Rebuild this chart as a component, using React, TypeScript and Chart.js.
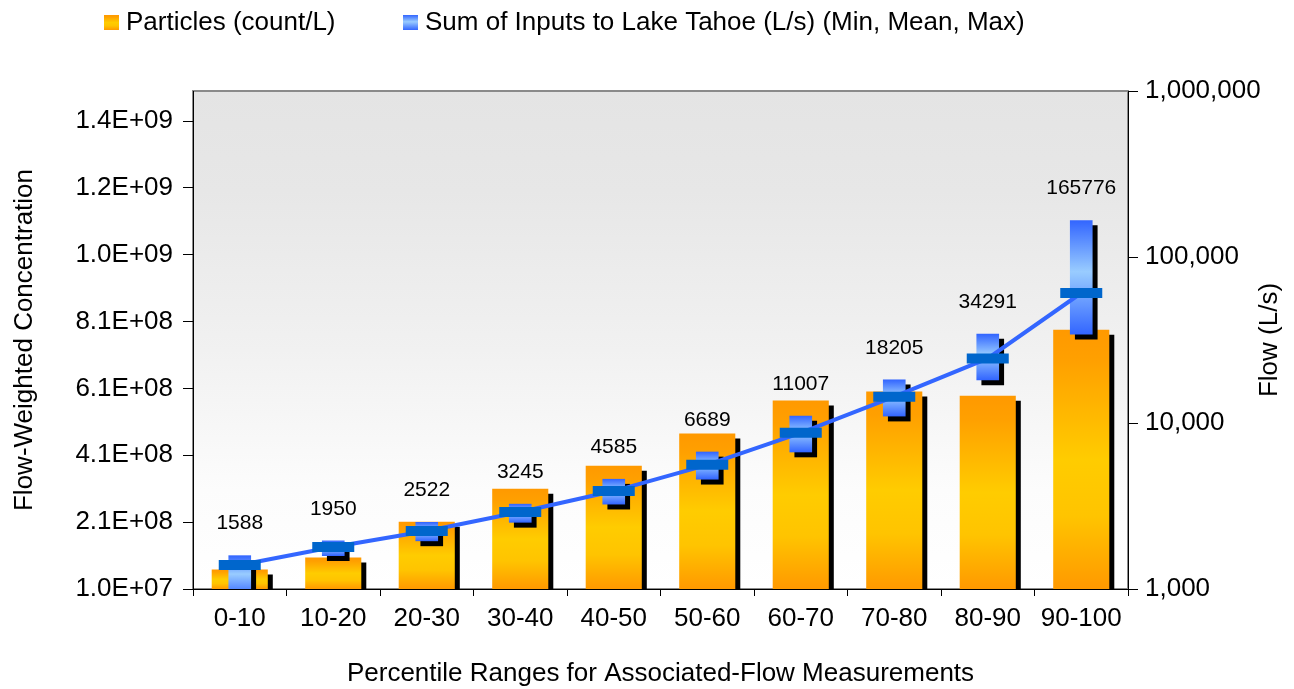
import React, { useEffect, useRef } from 'react';
import { Chart, registerables } from 'chart.js';

Chart.register(...registerables);

const categories = ['0-10', '10-20', '20-30', '30-40', '40-50', '50-60', '60-70', '70-80', '80-90', '90-100'];
const particles = [6.8e7, 1.04e8, 2.11e8, 3.1e8, 3.79e8, 4.75e8, 5.74e8, 6.01e8, 5.88e8, 7.86e8];
const flowMin = [900, 1588, 1950, 2522, 3245, 4585, 6689, 11007, 18205, 34291];
const flowMean = [1395, 1790, 2235, 2910, 3890, 5600, 8730, 14400, 24500, 60700];
const flowMax = [1588, 1950, 2522, 3245, 4585, 6689, 11007, 18205, 34291, 165776];
const leftTickValues = [1e7, 2.1e8, 4.1e8, 6.1e8, 8.1e8, 1.01e9, 1.21e9, 1.41e9];
const leftTickLabels = ['1.0E+07', '2.1E+08', '4.1E+08', '6.1E+08', '8.1E+08', '1.0E+09', '1.2E+09', '1.4E+09'];
const rightTickValues = [1000, 10000, 100000, 1000000];
const rightTickLabels = ['1,000', '10,000', '100,000', '1,000,000'];

const legendLabels = ['Particles (count/L)', 'Sum of Inputs to Lake Tahoe (L/s) (Min, Mean, Max)'];
const leftTitle = 'Flow-Weighted Concentration';
const rightTitle = 'Flow (L/s)';
const bottomTitle = 'Percentile Ranges for Associated-Flow Measurements';

const FONT = "'Liberation Sans', Arial, Helvetica, sans-serif";
const AXIS_SIZE = 26;
const LABEL_SIZE = 21;

function orangeGradient(ctx: CanvasRenderingContext2D, top: number, bottom: number) {
  const g = ctx.createLinearGradient(0, top, 0, bottom);
  g.addColorStop(0, '#ff9900');
  g.addColorStop(0.12, '#ffa000');
  g.addColorStop(0.5, '#ffcc00');
  g.addColorStop(0.72, '#ffc400');
  g.addColorStop(1, '#ff9900');
  return g;
}

function blueGradient(ctx: CanvasRenderingContext2D, top: number, bottom: number) {
  const g = ctx.createLinearGradient(0, top, 0, bottom);
  g.addColorStop(0, '#3366ff');
  g.addColorStop(0.45, '#99ccff');
  g.addColorStop(1, '#3366ff');
  return g;
}

const backgroundPlugin = {
  id: 'plotBackground',
  beforeDraw(chart: any) {
    const { ctx, chartArea } = chart;
    if (!chartArea) return;
    const { left, top, right, bottom } = chartArea;
    ctx.save();
    const g = ctx.createLinearGradient(0, top, 0, bottom);
    g.addColorStop(0, '#e4e4e4');
    g.addColorStop(0.2, '#e7e7e7');
    g.addColorStop(0.52, '#f1f1f1');
    g.addColorStop(0.8, '#fcfcfc');
    g.addColorStop(1, '#ffffff');
    ctx.fillStyle = g;
    ctx.fillRect(left, top, right - left, bottom - top);
    ctx.strokeStyle = '#8a8a8a';
    ctx.lineWidth = 2;
    ctx.strokeRect(left, top, right - left, bottom - top);
    ctx.restore();
  },
};

const shadowPlugin = {
  id: 'barShadow',
  beforeDatasetDraw(chart: any, args: any) {
    const ds = chart.data.datasets[args.index];
    if (ds.type === 'line') return;
    const ctx = chart.ctx;
    ctx.save();
    ctx.shadowColor = '#000000';
    ctx.shadowOffsetX = 5;
    ctx.shadowOffsetY = 5;
    ctx.shadowBlur = 0;
  },
  afterDatasetDraw(chart: any, args: any) {
    const ds = chart.data.datasets[args.index];
    if (ds.type === 'line') return;
    chart.ctx.restore();
  },
};

const overlayPlugin = {
  id: 'overlay',
  afterDraw(chart: any) {
    const { ctx, chartArea } = chart;
    const y1 = chart.scales.y1;
    ctx.save();
    // value labels above the flow ranges
    const meta = chart.getDatasetMeta(1);
    ctx.fillStyle = '#000';
    ctx.font = `${LABEL_SIZE}px ${FONT}`;
    ctx.textAlign = 'center';
    ctx.textBaseline = 'middle';
    meta.data.forEach((el: any, i: number) => {
      const yTop = y1.getPixelForValue(flowMax[i]);
      ctx.fillText(String(flowMax[i]), el.x, yTop - 32);
    });

    // right axis title (reads bottom to top)
    ctx.save();
    ctx.font = `${AXIS_SIZE}px ${FONT}`;
    ctx.translate(1270, (chartArea.top + chartArea.bottom) / 2);
    ctx.rotate(-Math.PI / 2);
    ctx.fillText(rightTitle, 0, 0);
    ctx.restore();

    // legend
    ctx.font = `${AXIS_SIZE}px ${FONT}`;
    ctx.textAlign = 'left';
    ctx.textBaseline = 'middle';
    const items = [
      { x: 104, label: legendLabels[0], grad: orangeGradient(ctx, 15, 30) },
      { x: 403, label: legendLabels[1], grad: blueGradient(ctx, 15, 30) },
    ];
    items.forEach((it) => {
      ctx.fillStyle = it.grad;
      ctx.fillRect(it.x, 15, 15, 15);
      ctx.fillStyle = '#000';
      ctx.fillText(it.label, it.x + 22, 23);
    });
    ctx.restore();
  },
};

export default function App() {
  const canvasRef = useRef<HTMLCanvasElement | null>(null);

  useEffect(() => {
    document.body.style.margin = '0';
    const canvas = canvasRef.current;
    if (!canvas) return;

    const tickFont = { family: FONT, size: AXIS_SIZE };

    const chart = new Chart(canvas, {
      type: 'bar',
      data: {
        labels: categories,
        datasets: [
          {
            type: 'line',
            label: 'Mean flow',
            data: flowMean,
            yAxisID: 'y1',
            borderColor: '#3366ff',
            borderWidth: 4,
            tension: 0,
            pointStyle: 'line',
            pointRadius: 21,
            pointHoverRadius: 21,
            pointBorderWidth: 10,
            pointBorderColor: '#0066cc',
            pointBackgroundColor: '#0066cc',
            order: 0,
          } as any,
          {
            type: 'bar',
            label: legendLabels[1],
            data: flowMin.map((m, i) => [m, flowMax[i]]),
            yAxisID: 'y1',
            grouped: false,
            barThickness: 22,
            borderWidth: 0,
            clip: 0,
            order: 1,
            backgroundColor: (c: any) => {
              const chart = c.chart;
              if (!chart.chartArea || c.type !== 'data') return '#3366ff';
              const s = chart.scales.y1;
              const top = s.getPixelForValue(flowMax[c.dataIndex]);
              const bottom = s.getPixelForValue(flowMin[c.dataIndex]);
              if (!isFinite(top) || !isFinite(bottom) || top === bottom) return '#3366ff';
              return blueGradient(chart.ctx, top, bottom);
            },
          } as any,
          {
            type: 'bar',
            label: legendLabels[0],
            data: particles,
            yAxisID: 'y',
            grouped: false,
            barPercentage: 0.6,
            categoryPercentage: 1,
            borderWidth: 0,
            clip: 0,
            order: 2,
            backgroundColor: (c: any) => {
              const chart = c.chart;
              if (!chart.chartArea || c.type !== 'data') return '#ff9900';
              const s = chart.scales.y;
              const top = s.getPixelForValue(particles[c.dataIndex]);
              const bottom = chart.chartArea.bottom;
              if (!isFinite(top) || top >= bottom) return '#ff9900';
              return orangeGradient(chart.ctx, top, bottom);
            },
          } as any,
        ],
      },
      options: {
        responsive: false,
        animation: false,
        devicePixelRatio: 1,
        layout: { padding: { top: 91, left: 0, right: 0, bottom: 0 } },
        plugins: {
          legend: { display: false },
          tooltip: { enabled: false },
        },
        scales: {
          x: {
            type: 'category',
            offset: true,
            z: 1,
            grid: { offset: true, drawOnChartArea: false, tickLength: 7, color: '#000', lineWidth: 1 },
            border: { color: '#000', width: 1 },
            ticks: { color: '#000', font: tickFont, padding: 7, maxRotation: 0, autoSkip: false },
            title: {
              display: true,
              text: bottomTitle,
              color: '#000',
              font: tickFont,
              padding: { top: 0, bottom: 0 },
            },
            afterFit: (s: any) => {
              s.height = 100;
            },
          },
          y: {
            type: 'linear',
            position: 'left',
            min: 1e7,
            max: 1.5e9,
            afterBuildTicks: (s: any) => {
              s.ticks = leftTickValues.map((v) => ({ value: v }));
            },
            grid: { drawOnChartArea: false, tickLength: 10, color: '#000', lineWidth: 1 },
            border: { color: '#000', width: 1 },
            ticks: {
              color: '#000',
              font: tickFont,
              padding: 10,
              autoSkip: false,
              callback: (v: any) => {
                const i = leftTickValues.indexOf(Number(v));
                return i >= 0 ? leftTickLabels[i] : '';
              },
            },
            title: {
              display: true,
              text: leftTitle,
              color: '#000',
              font: tickFont,
              padding: { top: 9, bottom: 0 },
            },
            afterFit: (s: any) => {
              s.width = 193;
            },
          },
          y1: {
            type: 'logarithmic',
            position: 'right',
            min: 1000,
            max: 1000000,
            afterBuildTicks: (s: any) => {
              s.ticks = rightTickValues.map((v) => ({ value: v }));
            },
            grid: { drawOnChartArea: false, tickLength: 10, color: '#000', lineWidth: 1 },
            border: { color: '#000', width: 1 },
            ticks: {
              color: '#000',
              font: tickFont,
              padding: 7,
              autoSkip: false,
              callback: (v: any) => {
                const i = rightTickValues.indexOf(Number(v));
                return i >= 0 ? rightTickLabels[i] : '';
              },
            },
            title: { display: false, text: rightTitle },
            afterFit: (s: any) => {
              s.width = 166;
            },
          },
        },
      } as any,
      plugins: [backgroundPlugin, shadowPlugin, overlayPlugin],
    });

    return () => {
      chart.destroy();
    };
  }, []);

  return (
    <div style={{ width: 1294, height: 689 }}>
      <canvas ref={canvasRef} width={1294} height={689} style={{ display: 'block' }} />
    </div>
  );
}
